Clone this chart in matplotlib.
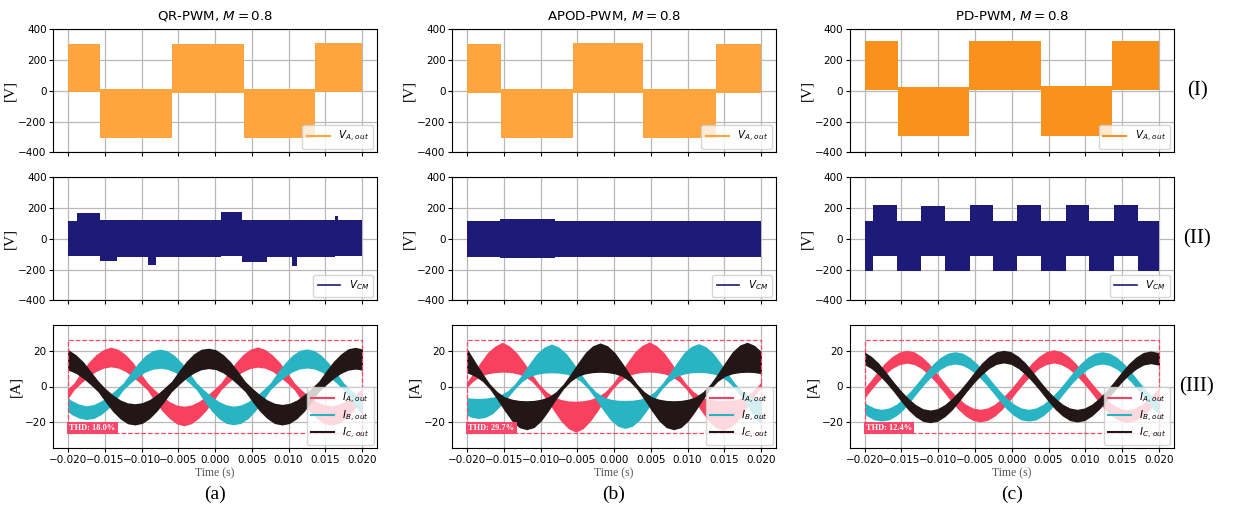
import numpy as np
import matplotlib
matplotlib.use('Agg')
import matplotlib.pyplot as plt
from matplotlib.patches import Rectangle
from matplotlib.lines import Line2D

# ------------------------------------------------------------------ data
titles = ['QR-PWM, $M = 0.8$', 'APOD-PWM, $M = 0.8$', 'PD-PWM, $M = 0.8$']
panel_letters = ['(a)', '(b)', '(c)']
row_labels = ['(I)', '(II)', '(III)']
thd_labels = ['THD: 18.0%', 'THD: 29.7%', 'THD: 12.4%']
time_ticks = [-0.020, -0.015, -0.010, -0.005, 0.000, 0.005, 0.010, 0.015, 0.020]
volt_ticks = [-400, -200, 0, 200, 400]
curr_ticks = [-20, 0, 20]

# Phase-A output voltage: block edges (s) and upper / lower envelope (V)
va_edges_qr = [-0.0200, -0.0157, -0.0059, 0.0039, 0.0136, 0.0200]
va_upper_qr = [306, 12, 307, 12, 309]
va_lower_qr = [-10, -305, -12, -307, -10]
va_edges_apod = [-0.0200, -0.0154, -0.0056, 0.0040, 0.0139, 0.0200]
va_upper_apod = [304, 11, 308, 11, 306]
va_lower_apod = [-12, -308, -12, -308, -12]
va_edges_pd = [-0.0200, -0.0155, -0.0058, 0.0040, 0.0137, 0.0200]
va_upper_pd = [324, 26, 326, 28, 325]
va_lower_pd = [7, -292, 7, -292, 7]

# Common-mode voltage: segment edges (s) and upper / lower envelope (V)
vcm_edges_qr = [-0.0200, -0.0188, -0.0157, -0.0134, -0.0091, -0.0080, 0.0008,
                0.0036, 0.0070, 0.0105, 0.0112, 0.0163, 0.0167, 0.0200]
vcm_upper_qr = [117, 166, 125, 122, 120, 120, 172, 125, 120, 120, 120, 148, 120]
vcm_lower_qr = [-113, -113, -142, -118, -170, -118, -113, -152, -120, -175, -118, -115, -115]
vcm_edges_apod = [-0.0200, -0.0155, -0.0080, 0.0200]
vcm_upper_apod = [116, 126, 118]
vcm_lower_apod = [-120, -124, -121]
vcm_edges_pd = [-0.0200, -0.01882, -0.01554, -0.01235, -0.00907, -0.00574, -0.00255,
                0.00073, 0.00396, 0.00738, 0.01052, 0.01385, 0.01713, 0.0200]
vcm_upper_pd = [117, 217, 115, 215, 117, 217, 117, 222, 115, 217, 115, 220, 117]
vcm_lower_pd = [-210, -113, -207, -113, -208, -113, -207, -113, -212, -113, -208, -113, -209]

# Output currents: first sample time (s), 1 ms spacing, upper / lower envelope (A)
ia_t0_qr = -0.0202
ia_upper_qr = [-2.0, 2.0, 8.2, 13.8, 18.1, 21.0, 22.4, 21.2, 18.3, 13.9, 8.0, 2.2, -2.0, -5.4,
               -8.6, -10.6, -11.2, -10.5, -8.4, -5.5, -1.8, 2.1, 8.0, 13.6, 18.2, 21.3, 22.5,
               21.1, 18.0, 13.7, 8.1, 2.0, -2.1, -5.7, -8.5, -10.3, -11.0, -10.2, -8.3, -5.4,
               -1.9, 2.0]
ia_lower_qr = [-8.2, -2.0, 2.0, 5.6, 8.5, 10.4, 11.2, 10.5, 8.6, 5.5, 1.9, -2.1, -8.3, -13.9,
               -18.2, -21.3, -22.4, -21.1, -18.0, -13.6, -8.1, -2.0, 2.1, 5.7, 8.4, 10.3, 11.0,
               10.4, 8.6, 5.5, 2.0, -2.0, -8.2, -13.7, -18.0, -21.0, -22.0, -21.0, -18.1, -13.8,
               -8.2, -2.0]
ib_t0_qr = -0.0205
ib_upper_qr = [-5.0, -8.0, -10.0, -11.0, -10.2, -8.2, -5.4, -1.8, 2.0, 7.8, 13.2, 17.6, 20.4,
               21.3, 20.4, 17.6, 13.3, 7.9, 2.0, -2.0, -5.5, -8.5, -10.4, -11.2, -10.5, -8.6,
               -5.6, -2.0, 2.0, 8.0, 13.4, 17.8, 20.6, 21.4, 20.5, 17.6, 13.2, 7.8, 2.0, -2.0,
               -5.6, -8.5]
ib_lower_qr = [-12.5, -16.0, -18.0, -18.8, -18.2, -16.0, -12.5, -7.8, -2.0, 2.0, 5.4, 8.2, 9.8,
               10.4, 9.8, 8.2, 5.5, 2.0, -2.0, -8.2, -13.8, -18.2, -21.0, -21.8, -21.0, -18.2,
               -13.8, -8.2, -2.0, 2.0, 5.5, 8.3, 10.0, 10.5, 10.0, 8.2, 5.5, 2.0, -2.0, -8.2,
               -13.6, -18.0]
ic_t0_qr = -0.0209
ic_upper_qr = [21.6, 20.8, 18.0, 14.0, 8.6, 3.2, -1.2, -4.8, -7.6, -9.3, -9.8, -9.2, -7.4, -4.5,
               -0.8, 3.1, 9.0, 14.4, 18.6, 21.2, 21.8, 21.0, 18.2, 14.1, 8.7, 2.9, -1.1, -4.7,
               -7.6, -9.5, -10.2, -9.6, -7.7, -4.7, -1.0, 3.0, 8.9, 14.3, 18.5, 21.5, 22.3, 21.3]
ic_lower_qr = [9.8, 9.2, 7.4, 4.5, 0.9, -3.1, -8.9, -14.3, -18.4, -21.2, -21.9, -21.0, -18.2,
               -14.0, -8.6, -2.9, 1.1, 4.8, 7.6, 9.5, 10.2, 9.6, 7.7, 4.7, 1.0, -3.0, -8.8, -14.2,
               -18.3, -21.1, -21.9, -21.1, -18.4, -14.3, -8.9, -3.1, 0.9, 4.5, 7.4, 9.3, 9.9, 9.3]

ia_t0_apod = -0.0202
ia_upper_apod = [1.5, 7.3, 13.6, 19.4, 23.0, 25.2, 23.0, 19.0, 13.5, 7.2, 1.4, -2.9, -5.9, -7.4,
                 -8.2, -8.4, -8.1, -7.3, -5.8, -2.9, 1.5, 7.4, 13.7, 19.6, 23.4, 25.4, 23.2, 19.2,
                 13.5, 7.2, 1.5, -2.9, -5.8, -7.2, -7.9, -8.0, -7.9, -7.2, -5.8, -2.9, 1.5, 7.3]
ia_lower_apod = [-1.5, 2.9, 5.8, 7.2, 7.9, 8.2, 8.0, 7.3, 5.8, 2.9, -1.6, -7.4, -13.8, -19.8,
                 -24.0, -26.0, -24.0, -19.6, -13.7, -7.3, -1.5, 2.9, 5.9, 7.3, 8.0, 8.2, 7.9, 7.2,
                 5.8, 2.9, -1.5, -7.3, -13.6, -19.4, -23.3, -25.0, -23.3, -19.4, -13.6, -7.3,
                 -1.5, 2.9]
ib_t0_apod = -0.0205
ib_upper_apod = [-6.2, -6.6, -6.8, -6.6, -6.0, -4.8, -2.5, 1.5, 7.0, 13.2, 18.8, 22.4, 24.2, 22.4,
                 18.8, 13.2, 7.1, 1.5, -2.9, -5.8, -7.2, -7.8, -7.9, -7.8, -7.2, -5.8, -2.9, 1.5,
                 7.2, 13.4, 19.2, 22.8, 24.4, 22.6, 18.9, 13.3, 7.1, 1.5, -2.9, -5.8, -7.2, -7.8]
ib_lower_apod = [-15.0, -17.4, -18.2, -17.6, -15.4, -11.2, -6.4, -1.5, 2.8, 5.6, 7.0, 7.6, 7.8,
                 7.6, 7.0, 5.6, 2.8, -1.5, -7.2, -13.4, -19.0, -22.6, -23.9, -22.6, -19.0,
                 -13.4, -7.2, -1.5, 2.8, 5.7, 7.1, 7.8, 8.0, 7.8, 7.1, 5.7, 2.8, -1.5, -7.3,
                 -13.6, -19.4, -23.2]
ic_t0_apod = -0.0209
ic_upper_apod = [23.6, 21.0, 14.2, 7.6, 1.5, -2.9, -5.8, -7.2, -7.9, -8.1, -7.9, -7.2, -5.8, -2.9,
                 1.5, 7.3, 13.6, 19.4, 23.2, 24.8, 23.2, 19.4, 13.6, 7.3, 1.5, -2.9, -5.8, -7.2,
                 -7.9, -8.1, -7.9, -7.2, -5.8, -2.9, 1.5, 7.4, 13.8, 19.8, 23.6, 25.2, 23.4, 19.6]
ic_lower_apod = [8.6, 7.6, 5.8, 2.9, -1.5, -7.4, -13.8, -19.6, -23.4, -24.6, -23.4, -19.6, -13.8,
                 -7.4, -1.5, 2.9, 5.8, 7.2, 7.9, 8.1, 7.9, 7.2, 5.8, 2.9, -1.5, -7.4, -13.8,
                 -19.6, -23.4, -24.6, -23.4, -19.6, -13.8, -7.4, -1.5, 2.9, 5.8, 7.2, 7.9, 8.1,
                 7.9, 7.2]

ia_t0_pd = -0.0203
ia_upper_pd = [-2.2, 2.8, 8.2, 13.2, 17.0, 19.6, 20.6, 19.8, 17.2, 13.3, 8.2, 2.8, -2.2, -6.5,
               -10.0, -12.2, -13.0, -12.2, -10.0, -6.5, -2.2, 2.8, 8.2, 13.3, 17.2, 19.9, 20.9,
               19.9, 17.2, 13.2, 8.2, 2.8, -2.2, -6.6, -10.2, -12.4, -13.2, -12.4, -10.2, -6.6,
               -2.2, 2.8]
ia_lower_pd = [-8.2, -2.8, 2.2, 6.6, 10.2, 12.4, 13.3, 12.5, 10.3, 6.6, 2.2, -2.8, -8.1, -13.0,
               -16.8, -19.3, -20.1, -19.3, -16.8, -13.0, -8.1, -2.8, 2.2, 6.6, 10.3, 12.5, 13.4,
               12.5, 10.2, 6.6, 2.2, -2.8, -8.2, -13.2, -17.0, -19.6, -20.4, -19.6, -17.0, -13.2,
               -8.2, -2.8]
ib_t0_pd = -0.0207
ib_upper_pd = [-6.6, -10.1, -12.2, -13.0, -12.2, -10.1, -6.6, -2.2, 2.8, 8.0, 12.9, 16.6, 19.0,
               19.8, 19.0, 16.6, 12.9, 8.0, 2.8, -2.2, -6.5, -10.0, -12.2, -13.0, -12.2, -10.0,
               -6.5, -2.2, 2.8, 8.0, 12.9, 16.6, 19.0, 19.8, 19.0, 16.6, 12.9, 8.0, 2.8, -2.2,
               -6.6, -10.1]
ib_lower_pd = [-13.0, -16.7, -19.0, -19.6, -19.0, -16.7, -13.0, -8.0, -2.8, 2.2, 6.4, 9.8, 12.0,
               12.8, 12.0, 9.8, 6.4, 2.2, -2.8, -8.0, -12.9, -16.6, -19.0, -19.7, -19.0, -16.6,
               -12.9, -8.0, -2.8, 2.2, 6.4, 9.8, 12.0, 12.8, 12.0, 9.8, 6.4, 2.2, -2.8, -8.0,
               -13.0, -16.7]
ic_t0_pd = -0.0201
ic_upper_pd = [19.8, 17.2, 13.3, 8.2, 2.8, -2.2, -6.6, -10.2, -12.6, -13.4, -12.6, -10.2, -6.6,
               -2.2, 2.8, 8.2, 13.3, 17.2, 19.8, 20.6, 19.8, 17.2, 13.3, 8.2, 2.8, -2.2, -6.5,
               -10.0, -12.2, -13.0, -12.2, -10.0, -6.5, -2.2, 2.8, 8.1, 13.0, 16.8, 19.4, 20.2,
               19.4, 16.8]
ic_lower_pd = [12.6, 10.2, 6.6, 2.2, -2.8, -8.2, -13.3, -17.2, -19.8, -20.6, -19.8, -17.2, -13.3,
               -8.2, -2.8, 2.2, 6.6, 10.2, 12.6, 13.4, 12.6, 10.2, 6.6, 2.2, -2.8, -8.1, -13.0,
               -16.8, -19.4, -20.2, -19.4, -16.8, -13.0, -8.1, -2.8, 2.2, 6.4, 9.8, 12.2, 13.0,
               12.2, 9.8]

sample_step = 0.001
signal_span = (-0.020, 0.020)

# ------------------------------------------------------------------ style
va_colors = ['#ffa53f', '#ffa53f', '#f8921b']
vcm_color = '#1e1b78'
ia_color = '#f8415f'
ib_color = '#28b4c2'
ic_color = '#221616'
thd_color = '#f5486a'
serif = ['Liberation Serif', 'DejaVu Serif']

plt.rcParams['font.family'] = ['DejaVu Sans']
plt.rcParams['mathtext.fontset'] = 'dejavusans'
plt.rcParams['axes.unicode_minus'] = True

fig = plt.figure(figsize=(12.38, 5.12), dpi=100)
W, H = 1238.0, 512.0
col_left = [53.3, 452.3, 850.0]
col_w = 323.5
row_top = [29.3, 177.3, 325.0]
row_h = 123.0


def step_xy(edges, up, lo):
    e = np.asarray(edges, float)
    x = np.repeat(e, 2)[1:-1]
    return x, np.repeat(lo, 2), np.repeat(up, 2)


def fmt_num(v, nd):
    s = ('%.' + str(nd) + 'f') % v
    return s.replace('-', '\u2212')


def style_axes(ax, yticks, ylim, ylabel, bottom):
    ax.set_xlim(-0.022, 0.022)
    ax.set_ylim(*ylim)
    ax.set_xticks(time_ticks)
    ax.set_yticks(yticks)
    ax.set_yticklabels([fmt_num(v, 0) for v in yticks])
    ax.set_axisbelow(True)
    ax.grid(True, color='#b8b8b8', lw=0.9)
    ax.tick_params(labelsize=7.5, length=2.6, pad=2.2)
    ax.set_ylabel(ylabel, family=serif, fontsize=11, labelpad=1.5)
    if bottom:
        ax.set_xticklabels([fmt_num(v, 3) for v in time_ticks])
        ax.set_xlabel('Time (s)', family=serif, fontsize=8.5, color='#555555', labelpad=2)
    else:
        ax.set_xticklabels([])


va_sets = [(va_edges_qr, va_upper_qr, va_lower_qr),
           (va_edges_apod, va_upper_apod, va_lower_apod),
           (va_edges_pd, va_upper_pd, va_lower_pd)]
vcm_sets = [(vcm_edges_qr, vcm_upper_qr, vcm_lower_qr),
            (vcm_edges_apod, vcm_upper_apod, vcm_lower_apod),
            (vcm_edges_pd, vcm_upper_pd, vcm_lower_pd)]
cur_sets = [
    [(ia_t0_qr, ia_upper_qr, ia_lower_qr), (ib_t0_qr, ib_upper_qr, ib_lower_qr),
     (ic_t0_qr, ic_upper_qr, ic_lower_qr)],
    [(ia_t0_apod, ia_upper_apod, ia_lower_apod), (ib_t0_apod, ib_upper_apod, ib_lower_apod),
     (ic_t0_apod, ic_upper_apod, ic_lower_apod)],
    [(ia_t0_pd, ia_upper_pd, ia_lower_pd), (ib_t0_pd, ib_upper_pd, ib_lower_pd),
     (ic_t0_pd, ic_upper_pd, ic_lower_pd)],
]
cur_colors = [ia_color, ib_color, ic_color]
cur_names = [r'$I_{A,\,out}$', r'$I_{B,\,out}$', r'$I_{C,\,out}$']

for c in range(3):
    axes = []
    for r in range(3):
        ax = fig.add_axes([col_left[c] / W, 1 - (row_top[r] + row_h) / H, col_w / W, row_h / H])
        axes.append(ax)

    # Row I : phase voltage
    ax = axes[0]
    x, lo, up = step_xy(*va_sets[c])
    ax.fill_between(x, lo, up, color=va_colors[c], lw=0)
    style_axes(ax, volt_ticks, (-400, 400), '[V]', False)
    ax.set_title(titles[c], fontsize=9.6, pad=7)
    ax.legend([Line2D([], [], color=va_colors[c], lw=1.5)], [r'$V_{A,\,out}$'],
              loc='lower right', fontsize=7.5, borderaxespad=0.35, handlelength=2.2)

    # Row II : common-mode voltage
    ax = axes[1]
    x, lo, up = step_xy(*vcm_sets[c])
    ax.fill_between(x, lo, up, color=vcm_color, lw=0)
    style_axes(ax, volt_ticks, (-400, 400), '[V]', False)
    ax.legend([Line2D([], [], color=vcm_color, lw=1.2)], [r'$V_{CM}$'],
              loc='lower right', fontsize=7.5, borderaxespad=0.35, handlelength=2.2)

    # Row III : output currents
    ax = axes[2]
    clip = Rectangle((signal_span[0], -40), signal_span[1] - signal_span[0], 80,
                     transform=ax.transData)
    handles = []
    for (t0, up, lo), col in zip(cur_sets[c], cur_colors):
        t = t0 + sample_step * np.arange(len(up))
        coll = ax.fill_between(t, lo, up, color=col, lw=0)
        coll.set_clip_path(clip)
        handles.append(Line2D([], [], color=col, lw=1.5))
    style_axes(ax, curr_ticks, (-35, 35), '[A]', True)
    ax.add_patch(Rectangle((signal_span[0], -26.5), signal_span[1] - signal_span[0], 53,
                           fill=False, ls='--', ec=thd_color, lw=0.9, zorder=3))
    ax.text(signal_span[0] + 0.0002, -23.4, thd_labels[c], family=serif, fontsize=6,
            fontweight='bold', color='white', va='center', ha='left', zorder=5,
            bbox=dict(boxstyle='square,pad=0.25', fc=thd_color, ec='none'))
    ax.legend(handles, cur_names, loc='lower right', fontsize=7.5, borderaxespad=0.3,
              labelspacing=0.2, handlelength=2.2)

    cx = (col_left[c] + col_w / 2) / W
    fig.text(cx, 1 - 494 / H, panel_letters[c], family=serif, fontsize=14,
             ha='center', va='center')

for r, lab in enumerate(row_labels):
    fig.text(1197 / W, 1 - (row_top[r] + row_h / 2) / H, lab, family=serif, fontsize=15,
             ha='center', va='center')

fig.savefig('out.png', dpi=100)
